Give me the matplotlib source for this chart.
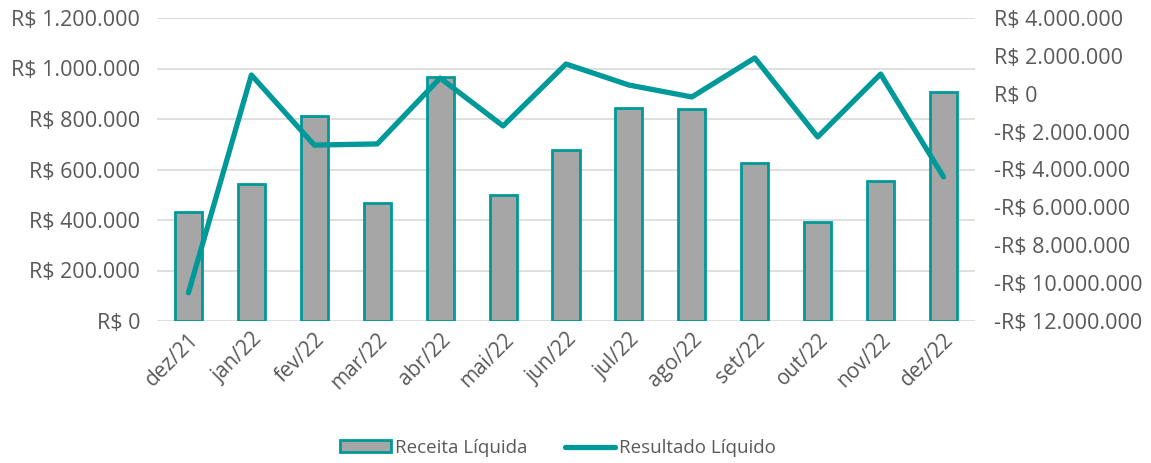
import numpy as np
import matplotlib.pyplot as plt
from matplotlib.ticker import FuncFormatter

months = ["dez/21", "jan/22", "fev/22", "mar/22", "abr/22", "mai/22", "jun/22",
          "jul/22", "ago/22", "set/22", "out/22", "nov/22", "dez/22"]
receita = [432000, 544000, 813000, 468000, 968000, 500000, 678000,
           845000, 841000, 627000, 393000, 556000, 905000]
resultado = [-10510000, 990000, -2710000, -2650000, 830000, -1700000, 1570000,
             460000, -170000, 1890000, -2280000, 1040000, -4390000]

teal = "#009999"
gray_txt = "#595959"
plt.rcParams['font.family'] = ['Open Sans', 'DejaVu Sans']


def brl(v, pos=None):
    s = "{:,.0f}".format(abs(v)).replace(",", ".")
    return ("-R$ " if v < 0 else "R$ ") + s


fig = plt.figure(figsize=(11.51, 4.63), dpi=100)
ax = fig.add_axes([157 / 1151, 1 - 321 / 463, (975 - 157) / 1151, (321 - 18) / 463])
x = np.arange(len(months))

ax.bar(x, receita, width=0.43, color="#a6a6a6", edgecolor=teal, linewidth=2,
       label="Receita Líquida", zorder=2)
ax.set_ylim(0, 1200000)
ax.set_yticks(np.arange(0, 1200001, 200000))
ax.yaxis.set_major_formatter(FuncFormatter(brl))
ax.grid(axis="y", color="#d9d9d9", linewidth=1.2, zorder=0)
ax.set_axisbelow(True)
ax.set_xlim(-0.5, len(months) - 0.5)
ax.set_xticks(x)
ax.set_xticklabels(months, rotation=45, ha="right", rotation_mode="anchor")
for s in ax.spines.values():
    s.set_visible(False)
ax.tick_params(axis="y", length=0, colors=gray_txt, labelsize=15.5, pad=12)
ax.tick_params(axis="x", length=0, colors=gray_txt, labelsize=15, pad=6)

ax2 = ax.twinx()
ax2.plot(x, resultado, color=teal, linewidth=3.8, solid_capstyle="round",
         label="Resultado Líquido", zorder=3)
ax2.set_ylim(-12000000, 4000000)
ax2.set_yticks(np.arange(-12000000, 4000001, 2000000))
ax2.yaxis.set_major_formatter(FuncFormatter(brl))
for s in ax2.spines.values():
    s.set_visible(False)
ax2.tick_params(length=0, colors=gray_txt, labelsize=15.5, pad=14)

h1, l1 = ax.get_legend_handles_labels()
h2, l2 = ax2.get_legend_handles_labels()
fig.legend(h1 + h2, l1 + l2, loc="center", bbox_to_anchor=(558 / 1151, 15 / 463),
           ncol=2, frameon=False, fontsize=13.5, labelcolor=gray_txt,
           handlelength=2.7, handleheight=0.6, columnspacing=2.0, handletextpad=0.2)

fig.savefig("out.png", dpi=100)
